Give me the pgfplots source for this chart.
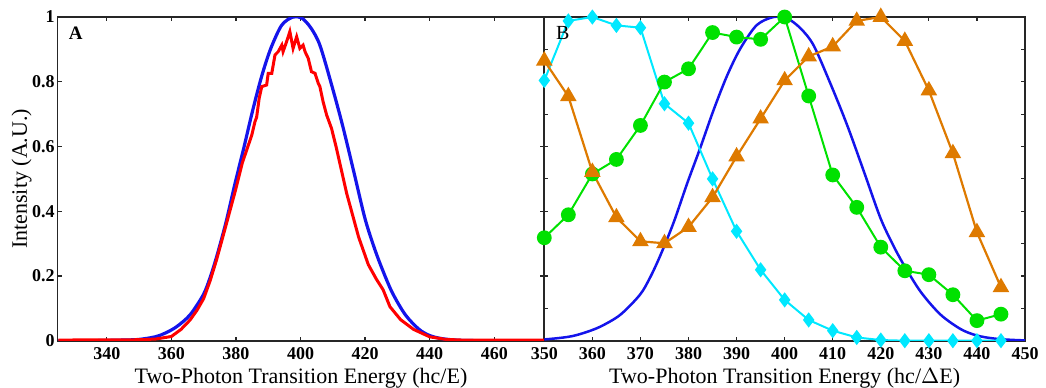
\documentclass[border=0pt]{standalone}
\usepackage{pgfplots}
\pgfplotsset{compat=1.18}
\usepackage{pgfplotstable}
\usepackage{fontspec}
\setmainfont{Liberation Serif}
\definecolor{cblue}{RGB}{20,20,235}
\definecolor{cred}{RGB}{255,0,0}
\definecolor{ccyan}{RGB}{0,232,255}
\definecolor{cgreen}{RGB}{0,225,0}
\definecolor{corange}{RGB}{222,122,0}

\pgfplotstableread{
x y
325 0.000
335 0.000
345 0.002
350 0.004
355 0.012
358 0.023
361.6 0.043
365.8 0.080
369.9 0.142
372 0.195
374.1 0.262
376.9 0.365
379.7 0.485
382.4 0.594
385.2 0.712
388.0 0.818
390.8 0.903
394.2 0.975
397.7 1.000
400.5 0.996
403.3 0.965
406.0 0.913
409.5 0.795
413.0 0.666
416.5 0.522
419.9 0.380
422.5 0.297
424.8 0.234
428.3 0.151
432.4 0.081
436.6 0.036
440 0.016
444 0.006
450 0.001
460 0.000
476 0.000
}\bluedata

\pgfplotstableread{
x y
325 0.002
350 0.003
355 0.005
360 0.013
363 0.035
365.8 0.064
368 0.095
370 0.13
372 0.185
374 0.25
377.1 0.363
380 0.47
382 0.55
384.9 0.635
385.9 0.677
386.4 0.69
387.2 0.749
388.0 0.785
389.5 0.790
390.0 0.826
391.1 0.826
392.1 0.883
393.1 0.893
394.2 0.913
394.6 0.893
395.7 0.924
396.7 0.955
397.7 0.903
398.8 0.939
399.8 0.903
400.8 0.913
401.4 0.893
402.4 0.872
403.4 0.831
404.5 0.826
405.5 0.795
406.0 0.785
407.0 0.738
408.1 0.697
409.6 0.656
411 0.60
414.3 0.455
418 0.32
421 0.235
423.5 0.19
425.6 0.157
427.7 0.105
431 0.065
435 0.035
440 0.012
445 0.004
450 0.002
476 0.002
}\reddata

\pgfplotstableread{
x cyan green orange
350 0.804 0.318 0.865
355 0.988 0.389 0.755
360 1.000 0.515 0.521
365 0.974 0.560 0.381
370 0.967 0.665 0.307
375 0.732 0.799 0.301
380 0.672 0.840 0.351
385 0.500 0.952 0.443
390 0.338 0.938 0.569
395 0.219 0.931 0.686
400 0.126 1.000 0.804
405 0.064 0.756 0.878
410 0.031 0.512 0.909
415 0.010 0.412 0.988
420 0.002 0.289 1.000
425 0.000 0.216 0.926
430 0.000 0.204 0.773
435 0.000 0.142 0.579
440 0.000 0.062 0.335
445 0.000 0.082 0.165
}\markdata

\pgfplotsset{panel/.style={
  scale only axis,
  height=161.85pt,
  ymin=0, ymax=1,
  axis line style={black!85, line width=0.8pt},
  tick style={black!85, line width=0.6pt},
  major tick length=2pt,
  tick align=inside,
  tick label style={font=\fontsize{9}{10}\selectfont\bfseries},
  yticklabel style={xshift=2pt},
  /pgf/number format/assume math mode=true,
  xlabel style={font=\fontsize{11}{12}\selectfont, at={(axis description cs:0.5,-0.1316)}, anchor=base},
}}

\begin{document}
\begin{tikzpicture}
\useasboundingbox (-28.85pt,-23.15pt) rectangle (494.15pt,170.35pt);
\begin{axis}[panel,
  at={(0pt,0pt)}, anchor=south west,
  width=243.3pt,
  xmin=324.8, xmax=475.5,
  xtick={340,360,380,400,420,440,460},
  ytick={0,0.2,0.4,0.6,0.8,1},
  xlabel={Two-Photon Transition Energy (hc/E)},
  ylabel={Intensity (A.U.)},
  ylabel style={font=\fontsize{11}{12}\selectfont, at={(axis description cs:-0.074,0.5)}, anchor=center},
]
\addplot[cblue, line width=1.6pt, smooth] table[x=x,y=y]{\bluedata};
\addplot[cred, line width=1.5pt] table[x=x,y=y]{\reddata};
\node[font=\fontsize{9.5}{10}\selectfont\bfseries, xshift=9pt, yshift=-8.2pt] at (rel axis cs:0,1) {A};
\end{axis}
\begin{axis}[panel,
  at={(243.3pt,0pt)}, anchor=south west,
  width=240.35pt,
  xmin=350, xmax=450,
  xtick={350,360,...,450},
  ytick={0,0.1,0.2,0.3,0.4,0.5,0.6,0.7,0.8,0.9,1},
  yticklabels={},
  xlabel={Two-Photon Transition Energy (hc/$\Delta$E)},
]
\addplot[cblue, line width=1.25pt, smooth] table[x=x,y=y]{\bluedata};
\addplot[ccyan, line width=1pt, mark=diamond*, mark size=3pt, mark options={fill=ccyan, draw=ccyan}] table[x=x,y=cyan]{\markdata};
\addplot[cgreen, line width=1pt, mark=*, mark size=3.2pt, mark options={fill=cgreen, draw=cgreen}] table[x=x,y=green]{\markdata};
\addplot[corange, line width=1.1pt, mark=triangle*, mark size=3.7pt, mark options={fill=corange, draw=corange}] table[x=x,y=orange]{\markdata};
\node[font=\fontsize{10}{11}\selectfont, xshift=9.2pt, yshift=-8.2pt] at (rel axis cs:0,1) {B};
\end{axis}
\end{tikzpicture}
\end{document}
